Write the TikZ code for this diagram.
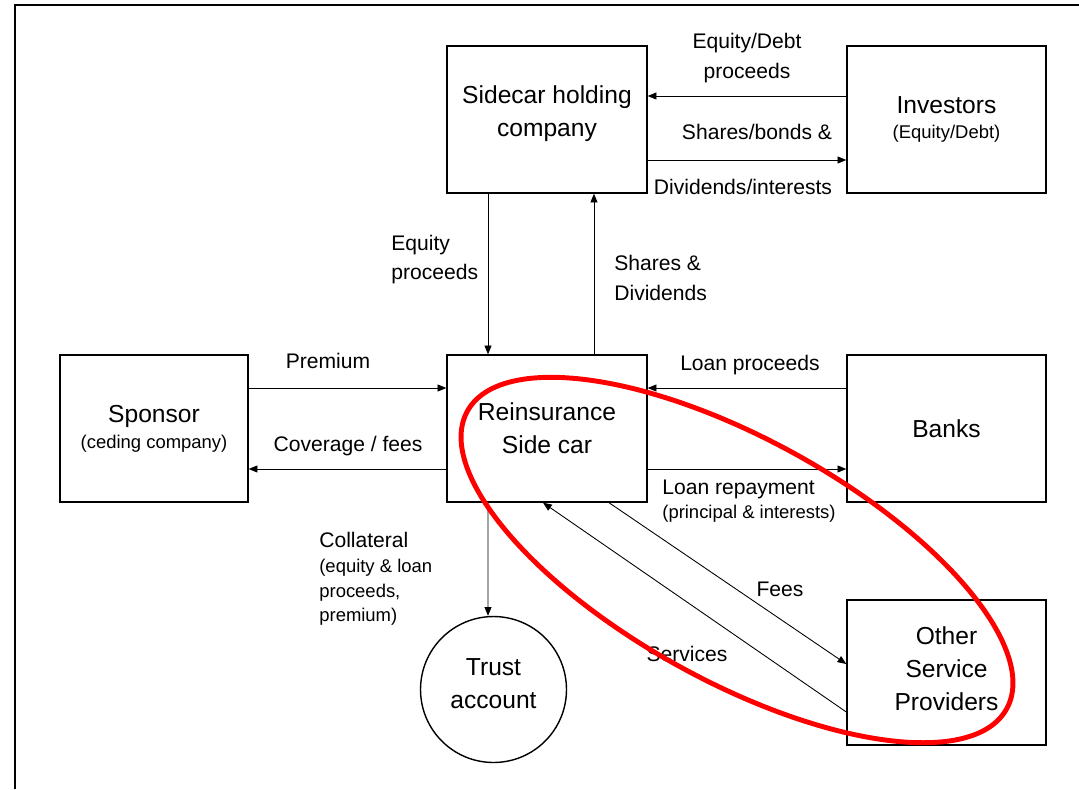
\documentclass[tikz,border=0pt]{standalone}
\usepackage{fontspec}
\setmainfont{Liberation Sans}
\usetikzlibrary{arrows.meta}
\newcommand{\subtxt}{\fontsize{10.5}{14}\selectfont}
\begin{document}
\begin{tikzpicture}[x=0.02cm, y=-0.02cm,
  box/.style={draw, line width=0.8pt, minimum width=4cm, minimum height=2.94cm,
    align=center, font=\fontsize{14}{18.7}\selectfont},
  lbl/.style={font=\fontsize{12}{17}\selectfont, align=center, inner sep=0pt},
  flow/.style={-{Triangle[length=5pt,width=4pt]}, line width=0.5pt}]
  \useasboundingbox (0,0) rectangle (1079,789);

  % Page frame
  \draw[line width=1.3pt] (15,789) -- (15,5) -- (1079,5);

  % Top row
  \node[box, text depth=10pt] (holding) at (547,119.5) {Sidecar holding\\company};
  \node[box, minimum width=3.98cm] (investors) at (946.5,119.5) {Investors\\[-4pt]{\subtxt(Equity/Debt)}};

  % Middle row
  \node[box, minimum width=3.76cm] (sponsor) at (154,428.5) {Sponsor\\[-4pt]{\subtxt(ceding company)}};
  \node[box] (rsc) at (547,428.5) {Reinsurance\\Side car};
  \node[box, minimum width=3.98cm] (banks) at (946.5,428.5) {Banks};

  % Bottom row
  \node[draw, circle, line width=0.8pt, minimum size=2.92cm, align=center, text depth=6.8pt,
    font=\fontsize{14}{18.7}\selectfont] (trust) at (493.5,689.5) {Trust\\account};
  \node[box, minimum width=3.98cm, minimum height=2.9cm, text depth=4.5pt] (osp) at (946.5,672.5) {Other\\Service\\Providers};

  % Investors <-> holding company
  \draw[flow] ([yshift=0.47cm]investors.west) -- ([yshift=0.47cm]holding.east);
  \draw[flow] ([yshift=-0.81cm]holding.east) -- ([yshift=-0.81cm]investors.west);
  \node[lbl] at (747,58) {Equity/Debt\\proceeds};
  \node[lbl] at (757,132) {Shares/bonds \&};
  \node[lbl] at (743,187) {Dividends/interests};

  % Holding company <-> side car
  \draw[flow] ([xshift=-1.18cm]holding.south) -- ([xshift=-1.18cm]rsc.north);
  \draw[flow] ([xshift=0.94cm]rsc.north) -- ([xshift=0.94cm]holding.south);
  \node[lbl, anchor=west, align=left] at (391,259.5) {Equity\\proceeds};
  \node[lbl, anchor=west, align=left] at (614,278) {Shares \&\\Dividends};

  % Sponsor <-> side car
  \draw[flow] ([yshift=0.81cm]sponsor.east) -- ([yshift=0.81cm]rsc.west);
  \draw[flow] ([yshift=-0.81cm]rsc.west) -- ([yshift=-0.81cm]sponsor.east);
  \node[lbl] at (328,361) {Premium};
  \node[lbl] at (348,446) {Coverage / fees};

  % Banks <-> side car
  \draw[flow] ([yshift=0.81cm]banks.west) -- ([yshift=0.81cm]rsc.east);
  \draw[flow] ([yshift=-0.81cm]rsc.east) -- ([yshift=-0.81cm]banks.west);
  \node[lbl] at (750,365) {Loan proceeds};
  \node[lbl, anchor=west, align=left] at (662,501) {Loan repayment\\[-3pt]{\subtxt(principal \& interests)}};

  % Collateral to trust account
  \draw[flow] ([xshift=-1.18cm]rsc.south) -- ([xshift=-0.11cm]trust.north);
  \node[lbl, anchor=west, align=left] at (319,579) {Collateral\\[-3pt]{\subtxt(equity \& loan}\\[-3pt]{\subtxt proceeds,}\\[-3pt]{\subtxt premium)}};

  % Other service providers
  \draw[flow] ([xshift=1.24cm]rsc.south) -- ([yshift=0.17cm]osp.west);
  \draw[flow] ([yshift=-0.79cm]osp.west) -- ([xshift=-0.08cm]rsc.south);
  \node[lbl] at (780,589) {Fees};
  \node[lbl] at (687,654) {Services};

  % Highlight
  \draw[red, line width=2.8pt, rotate around={-28.9:(737,560)}] (737,560) ellipse [x radius=308, y radius=121];
\end{tikzpicture}
\end{document}
